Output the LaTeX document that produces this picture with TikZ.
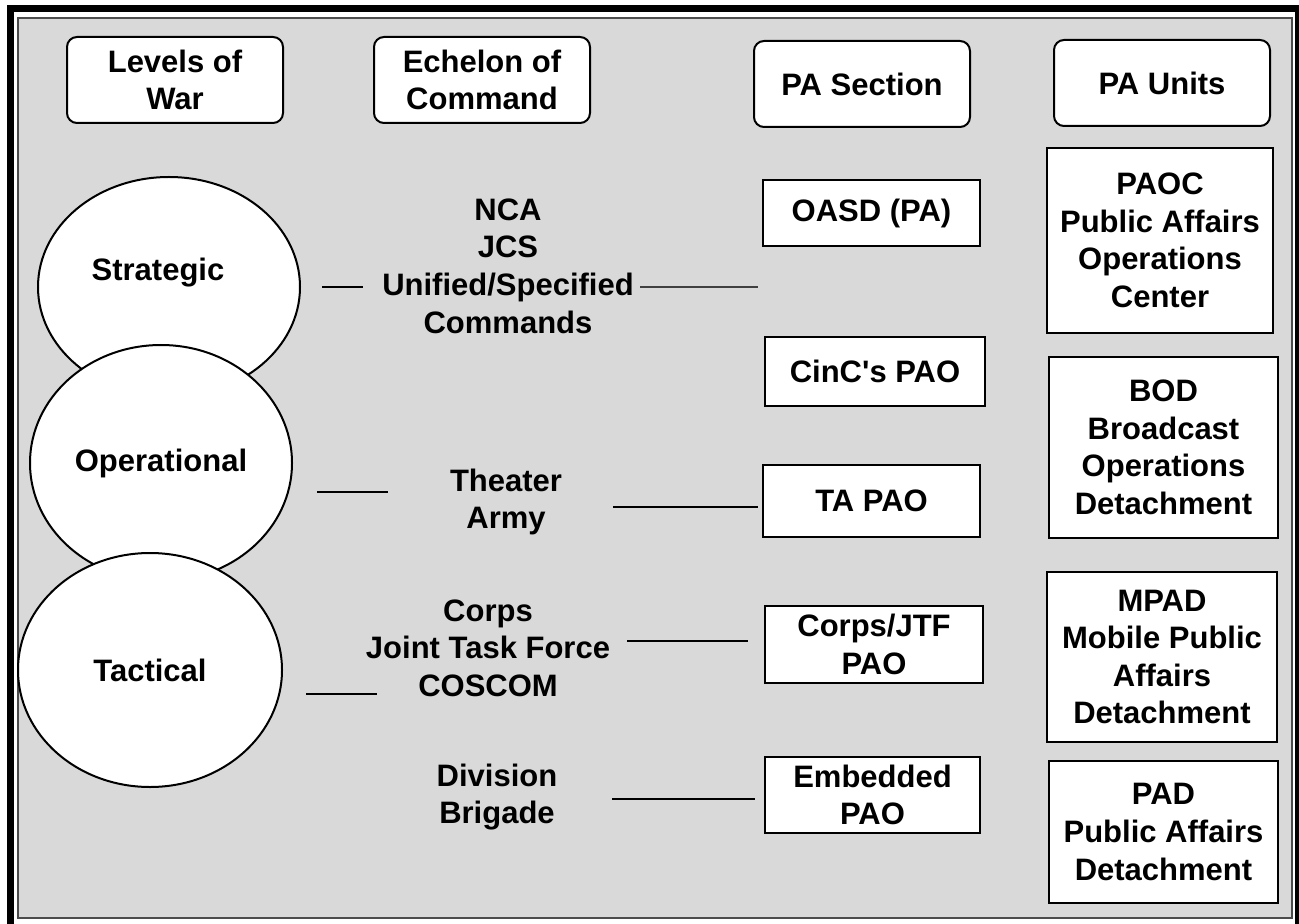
\documentclass[tikz,border=0pt]{standalone}
\usepackage{fontspec}
\setmainfont{Liberation Sans}
\usetikzlibrary{shapes.geometric}
\definecolor{panel}{HTML}{D9D9D9}

\begin{document}
\begin{tikzpicture}[x=0.5pt, y=-0.5pt,
		every node/.style={font=\bfseries\fontsize{15.5}{18.8}\selectfont, align=center},
		hdr/.style={rectangle, rounded corners=5pt, draw, fill=white, line width=1pt, minimum width=108pt, minimum height=43pt},
		lvl/.style={ellipse, draw, fill=white, line width=1pt, inner sep=0pt},
		sec/.style={rectangle, draw, fill=white, line width=1pt, inner sep=1pt},
		unit/.style={rectangle, draw, fill=white, line width=1pt, inner sep=1pt},
		tie/.style={line width=1pt}]
		\useasboundingbox (0,0) rectangle (1299,924);
		\fill[white] (0,0) rectangle (1299,924);
		\draw[line width=3.5pt] (10,8.5) rectangle (1298.5,935);
		\draw[black!70, line width=0.7pt, fill=panel] (18,18) rectangle (1292,918);

		% column headings
		\path (175,80) node[hdr] (levels) {Levels of\\War}
			(482,80) node[hdr] (echelon) {Echelon of\\Command}
			(862,84) node[hdr] (section) {PA Section}
			(1162,83) node[hdr] (units) {PA Units};

		% levels of war
		\path (169,287) node[lvl, minimum width=131pt, minimum height=110pt] (strat) {Strategic\hspace*{11pt}\rule[-18pt]{0pt}{18pt}}
			(161,463) node[lvl, minimum width=131pt, minimum height=118pt] (oper) {Operational}
			(150,670) node[lvl, minimum width=132pt, minimum height=117pt] (tact) {Tactical};

		% echelons
		\path (508,266) node (nca) {NCA\\JCS\\Unified/Specified\\Commands}
			(506,502) node (theater) {Theater\\Army}
			(488,648) node (corps) {Corps\\Joint Task Force\\COSCOM}
			(497,797) node (div) {Division\\Brigade};

		% PA sections
		\path (871.5,213) node[sec, minimum width=108.5pt, minimum height=33pt] (oasd) {OASD (PA)}
			(875,371.5) node[sec, minimum width=110pt, minimum height=34.5pt] (cinc) {CinC\textquotesingle s PAO}
			(871.5,501) node[sec, minimum width=108.5pt, minimum height=36pt] (tapao) {TA PAO}
			(874,644.5) node[sec, minimum width=109pt, minimum height=38.5pt] (jtf) {Corps/JTF\\PAO}
			(872.5,795) node[sec, minimum width=107.5pt, minimum height=38pt] (emb) {Embedded\\PAO};

		% PA units
		\path (1160,240.5) node[unit, minimum width=113pt, minimum height=92.5pt] (paoc) {PAOC\\Public Affairs\\Operations\\Center}
			(1163.5,447.5) node[unit, minimum width=114.5pt, minimum height=90.5pt] (bod) {BOD\\Broadcast\\Operations\\Detachment}
			(1162,657) node[unit, minimum width=115pt, minimum height=85pt] (mpad) {MPAD\\Mobile Public\\Affairs\\Detachment}
			(1163.5,832) node[unit, minimum width=114.5pt, minimum height=71pt] (pad) {PAD\\Public Affairs\\Detachment};

		% tie lines
		\path (322,287) coordinate (ncaL) (363,287) coordinate (ncaR)
			(640,287) coordinate (ncaA) (758,287) coordinate (ncaB)
			(317,492) coordinate (thL) (388,492) coordinate (thR)
			(613,507) coordinate (thA) (758,507) coordinate (thB)
			(627,641) coordinate (cpA) (748,641) coordinate (cpB)
			(306,694) coordinate (cpL) (377,694) coordinate (cpR)
			(612,799) coordinate (dvA) (755,799) coordinate (dvB);

		\draw[tie] (ncaL) -- (ncaR);
		\draw[black!75, line width=0.6pt] (ncaA) -- (ncaB);
		\draw[tie] (thL) -- (thR);
		\draw[tie] (thA) -- (thB);
		\draw[tie] (cpA) -- (cpB);
		\draw[tie] (cpL) -- (cpR);
		\draw[tie] (dvA) -- (dvB);
	\end{tikzpicture}
\end{document}
